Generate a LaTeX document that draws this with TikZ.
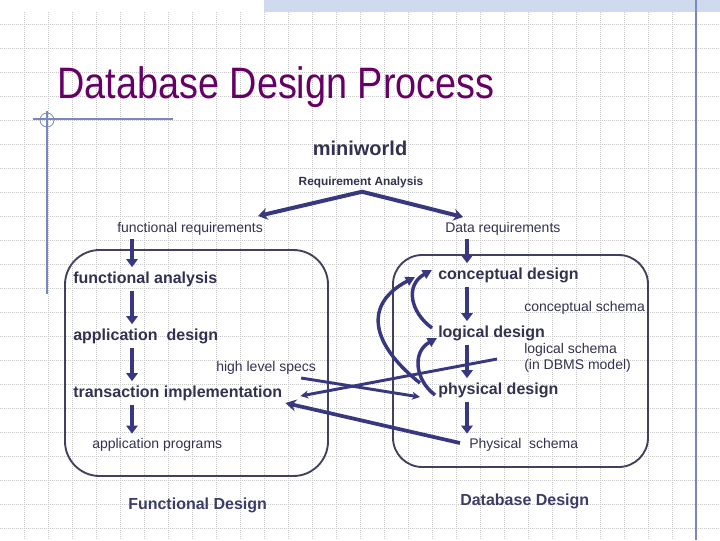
\documentclass[tikz,border=0pt]{standalone}
\usepackage{fontspec}
\setmainfont{Liberation Sans}
\usetikzlibrary{arrows.meta}
\definecolor{titlepurple}{RGB}{102,0,102}
\definecolor{inkblue}{RGB}{56,56,128}
\definecolor{textslate}{RGB}{50,50,80}
\definecolor{groupslate}{RGB}{60,60,105}
\definecolor{boxslate}{RGB}{64,64,96}
\definecolor{gridgray}{RGB}{200,200,200}
\definecolor{bandblue}{RGB}{208,218,238}
\definecolor{rulerblue}{RGB}{120,136,190}
\begin{document}
\begin{tikzpicture}[x=0.75pt, y=-0.75pt,
  gridline/.style={draw=gridgray, line width=0.6pt, dash pattern=on 0.75pt off 0.75pt},
  lbl/.style={anchor=base west, inner sep=0pt, text=textslate, font=\fontsize{10.5}{12.6}\selectfont},
  stagelbl/.style={lbl, font=\fontsize{12}{14.4}\selectfont\bfseries},
  grouplbl/.style={stagelbl, text=groupslate},
  groupbox/.style={draw=boxslate, line width=1.4pt},
  flow/.style={draw=inkblue, line width=3.6pt, -{Triangle[length=6pt, width=8.5pt]}, shorten <=3pt, shorten >=3pt},
  fork/.style={draw=inkblue, line width=3pt, line join=miter, {Stealth[length=7pt, width=9pt]}-{Stealth[length=7pt, width=9pt]}},
  cross/.style={draw=inkblue, line width=2.2pt, -{Stealth[length=6pt, width=6pt]}},
  loopback/.style={draw=inkblue, line width=2.6pt, -{Triangle[length=7pt, width=7pt]}}
]
\useasboundingbox[fill=white] (0,0) rectangle (720,540);
% slide background
\foreach \gx in {24,48,...,696} \draw[gridline] (\gx,12) -- (\gx,540);
\foreach \gy in {24,48,...,528} \draw[gridline] (0,\gy) -- (720,\gy);
\fill[bandblue] (264,0) rectangle (720,12);
\draw[rulerblue, line width=1.1pt] (696,0) -- (696,540);
\draw[rulerblue, line width=0.9pt] (33,119) -- (173,119);
\draw[rulerblue, line width=0.9pt] (47,111) -- (47,294);
\draw[rulerblue, line width=0.6pt] (47,120) circle[radius=7];

\node[anchor=base west, inner sep=0pt, text=titlepurple, font=\fontsize{33}{40}\selectfont] (title) at (57,98) {\scalebox{0.86}[1]{Database Design Process}};

% the two design tracks
\draw[groupbox, rounded corners=26pt] (65,250) rectangle (328,476);
\draw[groupbox, rounded corners=22pt] (393,255) rectangle (648,467);

\node[lbl, anchor=base, font=\fontsize{15}{18}\selectfont\bfseries] (mw) at (360,155) {miniworld};
\node[lbl, anchor=base, font=\fontsize{8.9}{10.7}\selectfont\bfseries] (ra) at (361,185) {Requirement Analysis};
\node[lbl] (freq) at (117,232) {functional requirements};
\node[lbl] (dreq) at (445,232) {Data requirements};

\node[stagelbl] (fa) at (73,283) {functional analysis};
\node[stagelbl] (ad) at (73,340) {application\ \ design};
\node[lbl] (hls) at (216,371) {high level specs};
\node[stagelbl] (ti) at (73,397) {transaction implementation};
\node[lbl] (apg) at (92,448) {application programs};

\node[stagelbl] (cd) at (438,279) {conceptual design};
\node[lbl] (cs) at (524,311) {conceptual schema};
\node[stagelbl] (ld) at (438,337) {logical design};
\node[lbl] (ls) at (524,353) {logical schema};
\node[lbl] (lsm) at (524,369) {(in DBMS model)};
\node[stagelbl] (pd) at (438,394) {physical design};
\node[lbl] (ps) at (469,448) {Physical\ \ schema};

\node[grouplbl] (fd) at (128,509) {Functional Design};
\node[grouplbl] (dd) at (460,505) {Database Design};

% requirement analysis fork
\coordinate (split) at ([shift={(1,4)}]ra.south);
\draw[fork] ([shift={(-5,-16)}]freq.base east) -- (split) -- ([shift={(18,-15)}]dreq.base west);

% functional track
\coordinate (lcol) at (132,0);
\draw[flow] (freq.south -| lcol) -- (fa.north -| lcol);
\draw[flow] (fa.south -| lcol) -- (ad.north -| lcol);
\draw[flow] (ad.south -| lcol) -- (ti.north -| lcol);
\draw[flow] (ti.south -| lcol) -- (apg.north -| lcol);

% database track
\coordinate (rcol) at (467,0);
\draw[flow] (dreq.south -| rcol) -- (cd.north -| rcol);
\draw[flow] (cd.south -| rcol) -- (ld.north -| rcol);
\draw[flow] (ld.south -| rcol) -- (pd.north -| rcol);
\draw[flow] (pd.south -| rcol) -- (ps.north -| rcol);

% feedback between the stages
\draw[loopback] ([shift={(-18,-11)}]pd.base west) .. controls +(-48,-38) and +(-53,28) .. ([shift={(-23,-2)}]cd.base west);
\draw[loopback] ([shift={(-6,-9)}]ld.base west) .. controls +(-22,-16) and +(-27,15) .. ([shift={(-6,-9)}]cd.base west);
\draw[loopback] ([shift={(-3,1)}]pd.base west) .. controls +(-20,-15) and +(-25,14) .. ([shift={(-1,1)}]ld.base west);

% exchange between the tracks
\draw[cross] ([shift={(-15,7)}]hls.base east) -- ([shift={(-18,3)}]pd.base west);
\draw[cross] ([shift={(-27,6)}]ls.base west) -- ([shift={(18,-1)}]ti.base east);
\draw[cross, line width=2.8pt, -{Stealth[length=8pt, width=9pt]}] ([shift={(-9,-5)}]ps.base west) -- ([shift={(3,6)}]ti.base east);
\end{tikzpicture}
\end{document}
